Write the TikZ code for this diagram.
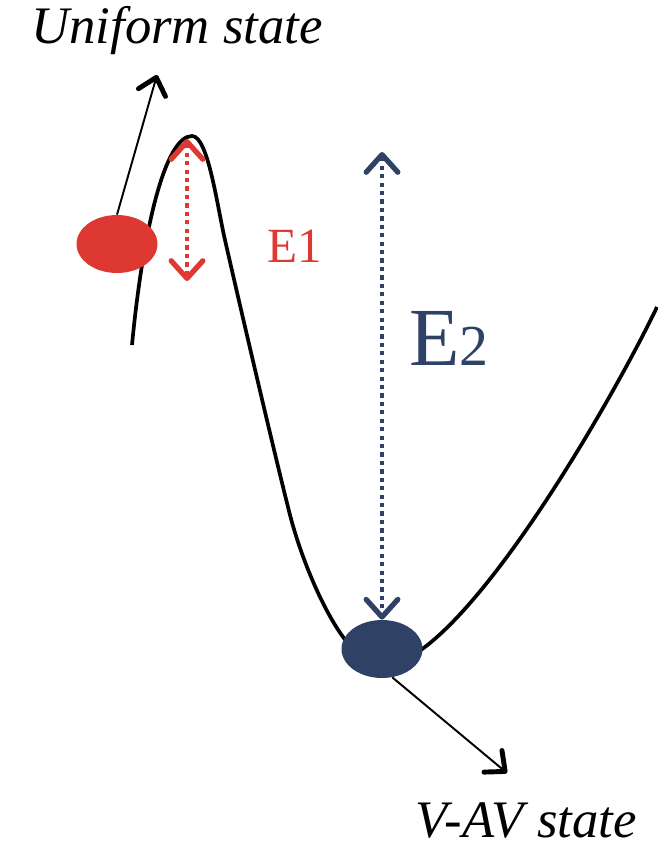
\documentclass[tikz,border=0pt]{standalone}
\usepackage{fontspec}
\setmainfont{Liberation Serif}
\usetikzlibrary{arrows.meta,shapes.geometric}
\definecolor{ered}{RGB}{222,56,50}
\definecolor{eblue}{RGB}{47,66,102}
\tikzstyle{ball} = [ellipse, minimum width=1.62cm, minimum height=1.16cm, inner sep=0pt]
\tikzstyle{pointer} = [line width=1.1pt, -{Straight Barb[length=9pt,width=16pt,line width=2.8pt,round]}]
\tikzstyle{gap} = [line width=2.8pt, dash pattern=on 2.4pt off 2.4pt,
    {Straight Barb[length=10pt,width=18pt,line width=3pt,round]}-{Straight Barb[length=10pt,width=18pt,line width=3pt,round]}]
\tikzstyle{statelabel} = [font=\fontsize{30}{34}\selectfont\itshape, inner sep=0pt, anchor=base]

\begin{document}
\begin{tikzpicture}[x=0.02cm, y=-0.02cm]
\useasboundingbox (0,0) rectangle (657,852);
%begin potential
\draw[line width=2.1pt] (132,345) .. controls (143,230) and (165,136) .. (192,136)
    .. controls (208,136) and (217,205) .. (225,240)
    .. controls (240,306) and (275,456) .. (290,515)
    .. controls (305,573) and (345,666) .. (382,666)
    .. controls (460,666) and (612,401) .. (657,307);
%end potential
%begin uniform
\node[ball, fill=ered] (uniform) at (117,244) {};
\coordinate (uniformtip) at (157,75);
\draw[pointer] (uniform.north) -- (uniformtip);
\node[statelabel] (uniformlabel) at (177,43) {Uniform state};
%end uniform
%begin E1
\coordinate (e1top) at (187,139);
\coordinate (e1bottom) at (187,281);
\draw[gap, ered] (e1top) -- (e1bottom);
\node[anchor=base, inner sep=0pt, text=ered, font=\fontsize{28}{32}\selectfont] (e1) at (295,262) {E1};
%end E1
%begin vav
\node[ball, fill=eblue] (vav) at (382,649) {};
\coordinate (e2top) at (382,152);
\draw[gap, eblue] (e2top) -- (vav.north);
\node[anchor=base west, inner sep=0pt, text=eblue, font=\fontsize{47}{52}\selectfont] (e2) at (409,365) {E{\fontsize{33}{38}\selectfont 2}};
\coordinate (vavtip) at (507,773);
\draw[pointer] (vav.-70) -- (vavtip);
\node[statelabel] (vavlabel) at (526,837) {V-AV state};
%end vav
\end{tikzpicture}
\end{document}
